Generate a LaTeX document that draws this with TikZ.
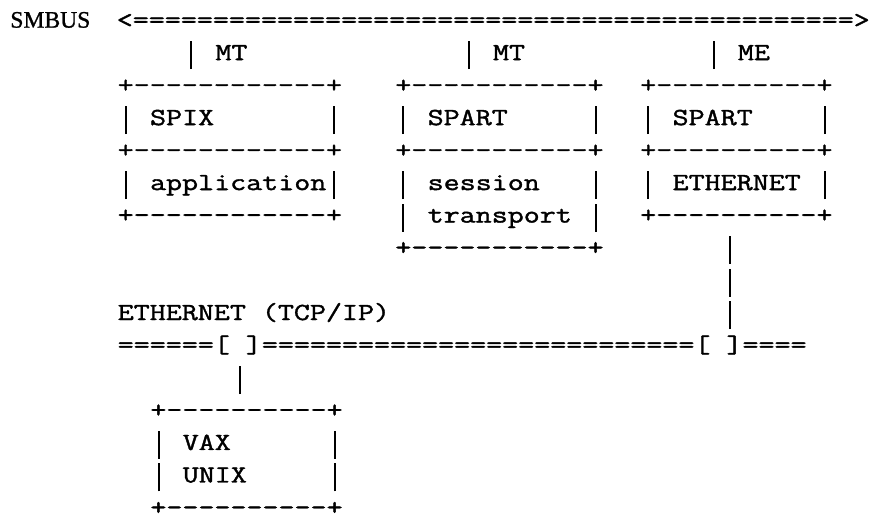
\documentclass[tikz,border=0pt]{standalone}
\usepackage{fontspec}
\setmonofont{Latin Modern Mono}[FakeStretch=1.266, FakeBold=1.5]
\newfontfamily\labelserif{Liberation Serif}[FakeBold=1]
\usetikzlibrary{positioning}

% a tall typewriter bar, one character cell wide
\newcommand\vln{\makebox[8.167pt]{\rule[-4.5pt]{1pt}{14pt}}}

\begin{document}
\begin{tikzpicture}[
  x=8.167pt, y=-16.25pt,
  asc/.style={anchor=base west, inner sep=0pt, outer sep=0pt, align=left,
              font=\ttfamily\fontsize{12.29}{16.25}\selectfont},
  tag/.style={anchor=base west, inner sep=0pt,
              font=\labelserif\fontsize{11.8}{14}\selectfont},
]
  \useasboundingbox[fill=white] (-7.21,-0.85) rectangle (46.56,15.0);

  % bus along the top
  \node[tag] (smbus) at (-6.6,0) {SMBUS};
  \node[asc, anchor=base] (busline) at (23,0)
    {<=============================================>};

  % drops from the bus
  \node[asc] (dropa) at (4,1)  {\vln~MT};
  \node[asc] (dropb) at (21,1) {\vln~MT};
  \node[asc] (dropc) at (36,1) {\vln~ME};

  % the three stacks (a block sits on the baseline of its last line)
  \node[asc] (spix) at (0,6)
    {+------------+\\
     \vln~SPIX~~~~~~~\vln\\
     +------------+\\
     \vln~application\vln\\
     +------------+};
  \node[asc] (spartmt) at (17,7)
    {+-----------+\\
     \vln~SPART~~~~~\vln\\
     +-----------+\\
     \vln~session~~~\vln\\
     \vln~transport~\vln\\
     +-----------+};
  \node[asc] (spartme) at (32,6)
    {+----------+\\
     \vln~SPART~~~~\vln\\
     +----------+\\
     \vln~ETHERNET~\vln\\
     +----------+};
  \node[asc] (tap) at (37,9) {\vln\\\vln\\\vln};

  % ethernet segment
  \node[asc] (ethlbl) at (0,9) {ETHERNET~(TCP/IP)};
  \node[asc] (ethline) at (0,10)
    {======[~]===========================[~]====};
  \node[asc] (vaxtap) at (7,11) {\vln};
  \node[asc] (vax) at (2,15)
    {+----------+\\
     \vln~VAX~~~~~~\vln\\
     \vln~UNIX~~~~~\vln\\
     +----------+};
\end{tikzpicture}
\end{document}
